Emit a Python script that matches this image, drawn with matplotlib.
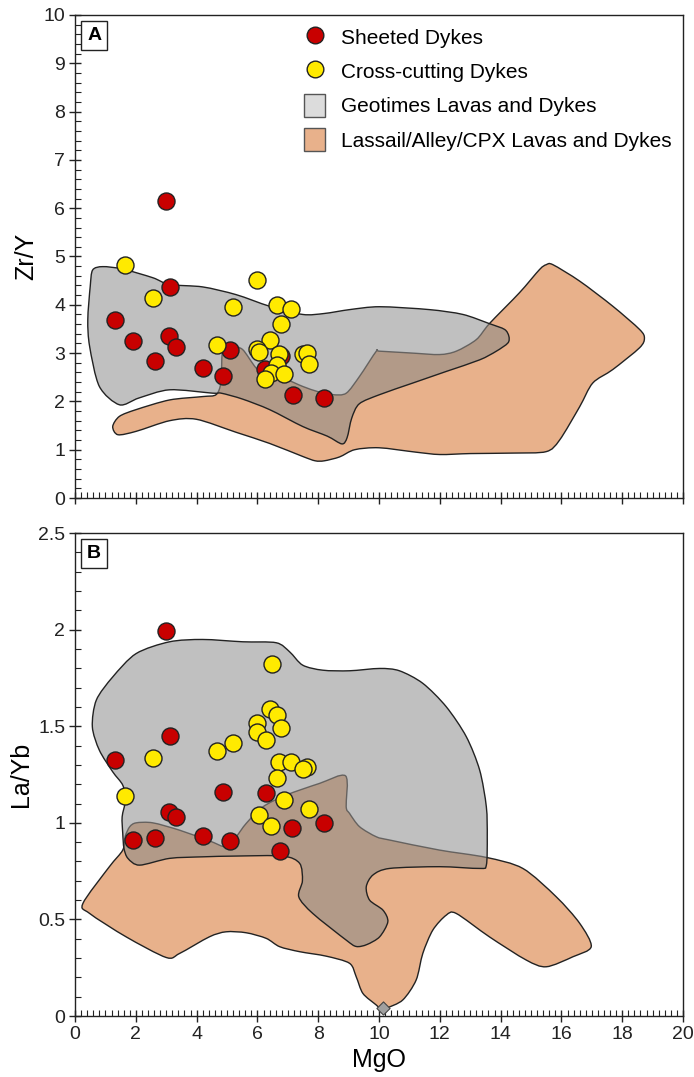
import numpy as np
import matplotlib
matplotlib.use("Agg")
import matplotlib.pyplot as plt
from matplotlib.path import Path
from matplotlib.patches import PathPatch, Patch
from matplotlib.lines import Line2D
from matplotlib.ticker import MultipleLocator, FuncFormatter

plt.rcParams['font.family'] = ['Liberation Sans', 'DejaVu Sans']

# ---------------- sample data ----------------
# Panel A: Zr/Y vs MgO
sheeted_mgo_a = [2.98, 3.14, 1.30, 1.92, 3.09, 3.33, 2.64, 4.21, 4.86, 5.09, 6.26, 6.78, 7.17, 8.18]
sheeted_zry = [6.15, 4.37, 3.69, 3.26, 3.36, 3.12, 2.84, 2.70, 2.52, 3.07, 2.67, 2.93, 2.14, 2.06]

cross_mgo_a = [1.65, 2.56, 5.98, 5.21, 6.64, 7.11, 6.77, 6.40, 4.68, 5.99, 6.05, 6.72, 7.49, 7.62,
               7.71, 6.64, 6.44, 6.86, 6.26]
cross_zry = [4.83, 4.14, 4.52, 3.96, 4.00, 3.91, 3.61, 3.28, 3.17, 3.09, 3.02, 2.99, 2.99, 3.00,
             2.78, 2.76, 2.59, 2.57, 2.47]

# Panel B: La/Yb vs MgO
sheeted_mgo_b = [2.98, 3.14, 1.30, 4.86, 6.29, 3.09, 3.33, 1.92, 2.64, 4.21, 5.10, 7.14, 8.18, 6.75]
sheeted_layb = [1.992, 1.449, 1.324, 1.157, 1.156, 1.057, 1.028, 0.911, 0.923, 0.933, 0.906, 0.971,
                0.997, 0.855]

cross_mgo_b = [6.49, 6.40, 6.64, 5.98, 5.99, 6.29, 6.78, 5.21, 4.68, 2.56, 6.70, 7.11, 7.62, 7.49,
               6.64, 1.65, 6.87, 6.05, 7.71, 6.45]
cross_layb = [1.820, 1.588, 1.557, 1.519, 1.471, 1.428, 1.490, 1.414, 1.373, 1.338, 1.316, 1.316,
              1.290, 1.278, 1.230, 1.140, 1.117, 1.040, 1.069, 0.985]

# single Geotimes reference point at the base of panel B
extra_mgo_b = [10.12]
extra_layb = [0.04]

# ---------------- compositional fields ----------------
geotimes_a_mgo = [0.58, 0.91, 1.57, 2.56, 3.11, 4.20, 5.30, 6.40, 7.49, 8.20, 9.03, 10.02, 11.66,
                  12.76, 13.63, 14.13, 14.27, 14.24, 13.86, 13.31, 12.21, 11.11, 10.02, 9.35,
                  9.10, 8.95, 8.78, 8.30, 7.49, 6.40, 5.50, 4.81, 4.53, 3.11, 2.10, 1.46, 0.80,
                  0.48, 0.42, 0.50]
geotimes_a_zry = [4.72, 4.79, 4.74, 4.56, 4.42, 4.37, 4.21, 3.97, 3.80, 3.82, 3.90, 3.96, 3.90,
                  3.80, 3.61, 3.49, 3.35, 3.21, 3.04, 2.86, 2.62, 2.38, 2.14, 1.95,
                  1.65, 1.25, 1.12, 1.28, 1.48, 1.83, 2.05, 2.17, 2.17, 2.24, 2.07, 1.93, 2.31,
                  3.14, 3.69, 4.38]

lassail_a_mgo = [1.24, 1.46, 2.01, 3.11, 4.20, 4.64, 4.80, 4.84, 4.95, 5.19, 5.52, 5.96, 6.40,
                 6.95, 7.49, 8.00, 8.48, 8.92, 9.36, 9.91, 10.02, 11.11, 11.99, 12.54, 13.20,
                 13.63, 14.62, 15.28, 15.50, 15.72, 16.60, 17.69, 18.57, 18.73, 18.57, 17.69,
                 17.03, 16.60, 15.94, 15.50, 14.40, 13.00, 12.00, 11.20, 10.00, 9.20, 8.70,
                 8.20, 7.90, 7.49, 6.40, 5.30, 3.99, 3.11, 2.01, 1.41]
lassail_a_zry = [1.48, 1.69, 1.83, 2.03, 2.10, 2.14, 2.40, 3.00, 3.12, 3.14, 3.07, 2.69, 2.48,
                 2.45, 2.31, 2.20, 2.14, 2.17, 2.52, 3.04, 3.04, 3.00, 2.97, 3.04, 3.28,
                 3.61, 4.25, 4.73, 4.83, 4.83, 4.49, 3.97, 3.49, 3.31, 3.11, 2.66,
                 2.38, 1.89, 1.20, 0.96, 0.93, 0.92, 0.90, 0.95, 1.04, 1.00, 0.85,
                 0.77, 0.77, 0.86, 1.13, 1.36, 1.63, 1.60, 1.38, 1.31]

geotimes_b_mgo = [0.57, 0.70, 1.24, 2.01, 3.11, 4.20, 5.52, 6.62, 7.06, 7.49, 8.15, 9.03, 10.02,
                  10.67, 11.44, 12.21, 12.87, 13.31, 13.53, 13.56, 13.53, 13.31, 11.99, 10.35,
                  9.80, 9.58, 9.69, 10.13, 10.29, 10.02, 9.60, 9.25, 8.92, 7.82, 7.36, 7.48,
                  7.39, 6.84, 5.30, 4.20, 3.11, 2.12, 1.74, 1.61, 1.57, 1.55, 1.66, 1.57, 1.24,
                  0.80]
geotimes_b_layb = [1.497, 1.635, 1.755, 1.876, 1.937, 1.949, 1.937, 1.932, 1.885, 1.816, 1.790,
                   1.787, 1.799, 1.787, 1.722, 1.601, 1.446, 1.273, 1.083, 0.928, 0.781, 0.764,
                   0.773, 0.764, 0.730, 0.669, 0.600, 0.548, 0.488, 0.410, 0.370, 0.360, 0.393,
                   0.531, 0.617, 0.700, 0.790, 0.828, 0.828, 0.824, 0.816, 0.781, 0.816,
                   0.868, 0.945, 1.031, 1.118, 1.195, 1.264, 1.376]

lassail_b_mgo = [0.26, 1.13, 1.57, 1.65, 1.80, 2.01, 2.56, 3.44, 4.42, 4.97, 5.30, 5.63, 6.18,
                 6.95, 8.04, 8.90, 8.92, 9.03, 9.36, 9.91, 10.35, 11.99, 13.53, 14.73, 15.83,
                 16.60, 16.98, 16.38, 15.50, 14.84, 13.63, 12.54, 12.21, 11.77, 11.44, 11.22,
                 10.78, 10.24, 10.10, 9.91, 9.47, 9.25, 9.03, 8.26, 7.39, 6.73, 6.29, 5.63,
                 4.97, 4.42, 3.44, 3.00, 1.68, 0.48]
lassail_b_layb = [0.583, 0.773, 0.859, 0.930, 0.980, 1.000, 1.000, 0.962, 0.907, 0.876, 0.928,
                  0.997, 1.083, 1.144, 1.204, 1.243, 1.083, 1.049, 0.980, 0.928, 0.911, 0.859,
                  0.821, 0.764, 0.617, 0.480, 0.359, 0.307, 0.255, 0.290, 0.410, 0.531, 0.522,
                  0.445, 0.324, 0.186, 0.083, 0.040, 0.030, 0.057, 0.117, 0.203, 0.273, 0.310,
                  0.333, 0.359, 0.402, 0.431, 0.436, 0.410, 0.324, 0.303, 0.410, 0.531]

# ---------------- styling ----------------
RED = '#c80000'
YELLOW = '#ffea00'
GREY = '#c0c0c0'
ORANGE = '#e8b18b'
OVERLAP = '#b29a88'
EDGE = '#222222'


def smooth_path(xs, ys, k=7.0):
    """Closed Catmull-Rom outline expressed as cubic Bezier segments."""
    p = np.column_stack([xs, ys]).astype(float)
    n = len(p)
    verts = [p[0]]
    codes = [Path.MOVETO]
    for i in range(n):
        p0, p1, p2, p3 = p[i - 1], p[i], p[(i + 1) % n], p[(i + 2) % n]
        c1 = p1 + (p2 - p0) / k
        c2 = p2 - (p3 - p1) / k
        verts += [c1, c2, p2]
        codes += [Path.CURVE4] * 3
    verts.append(p[0])
    codes.append(Path.CLOSEPOLY)
    return Path(np.array(verts), codes)


def draw_fields(ax, grey_xy, orange_xy):
    gpath = smooth_path(*grey_xy)
    opath = smooth_path(*orange_xy)
    # orange field
    ax.add_patch(PathPatch(opath, facecolor=ORANGE, edgecolor='none', zorder=1))
    ax.add_patch(PathPatch(opath, facecolor='none', edgecolor=EDGE, lw=1.0, zorder=1.1))
    # grey field
    ax.add_patch(PathPatch(gpath, facecolor=GREY, edgecolor='none', zorder=2))
    # overlap of both fields
    ov = PathPatch(gpath, facecolor=OVERLAP, edgecolor='none', zorder=2.1)
    ax.add_patch(ov)
    ov.set_clip_path(PathPatch(opath, transform=ax.transData))
    # orange outline seen through the grey field
    ol = PathPatch(opath, facecolor='none', edgecolor='#4a4a4a', lw=1.0, alpha=0.75, zorder=2.2)
    ax.add_patch(ol)
    ol.set_clip_path(PathPatch(gpath, transform=ax.transData))
    ax.add_patch(PathPatch(gpath, facecolor='none', edgecolor=EDGE, lw=1.0, zorder=2.3))


def style_axes(ax, ymax, ymajor, yminor):
    ax.set_xlim(0, 20)
    ax.set_ylim(0, ymax)
    ax.xaxis.set_major_locator(MultipleLocator(2))
    ax.xaxis.set_minor_locator(MultipleLocator(0.2))
    ax.yaxis.set_major_locator(MultipleLocator(ymajor))
    ax.yaxis.set_minor_locator(MultipleLocator(yminor))
    ax.yaxis.set_major_formatter(FuncFormatter(lambda v, p: f'{v:g}'))
    ax.tick_params(which='major', direction='inout', length=8, width=1.0, color=EDGE,
                   labelsize=14, labelcolor='#222222', pad=3)
    ax.tick_params(which='minor', direction='in', length=4, width=0.8, color=EDGE)
    ax.tick_params(top=False, right=False, which='both')
    for s in ax.spines.values():
        s.set_color(EDGE)
        s.set_linewidth(1.0)


def panel_letter(ax, letter):
    ax.text(0.02, 0.975, letter, transform=ax.transAxes, fontsize=14, fontweight='bold',
            va='top', ha='left',
            bbox=dict(boxstyle='square,pad=0.3', facecolor='white', edgecolor=EDGE, lw=1.0))


fig = plt.figure(figsize=(6.94, 10.77), dpi=100)
axA = fig.add_axes([0.1081, 0.5376, 0.8761, 0.4485])
axB = fig.add_axes([0.1081, 0.0566, 0.8761, 0.4485])

MS = 150

# ---- panel A ----
draw_fields(axA, (geotimes_a_mgo, geotimes_a_zry), (lassail_a_mgo, lassail_a_zry))
axA.scatter(sheeted_mgo_a, sheeted_zry, s=MS, c=RED, edgecolors=EDGE, linewidths=1.0, zorder=5)
axA.scatter(cross_mgo_a, cross_zry, s=MS, c=YELLOW, edgecolors=EDGE, linewidths=1.0, zorder=6)
style_axes(axA, 10, 1, 0.2)
axA.tick_params(axis='x', labelbottom=False)
axA.set_ylabel('Zr/Y', fontsize=18, labelpad=4)
panel_letter(axA, 'A')

handles = [
    Line2D([], [], marker='o', ls='none', markersize=12, markerfacecolor=RED,
           markeredgecolor=EDGE, markeredgewidth=1.0),
    Line2D([], [], marker='o', ls='none', markersize=12, markerfacecolor=YELLOW,
           markeredgecolor=EDGE, markeredgewidth=1.0),
    Patch(facecolor='#dcdcdc', edgecolor='#555555', lw=1.0),
    Patch(facecolor=ORANGE, edgecolor='#555555', lw=1.0),
]
labels = ['Sheeted Dykes', 'Cross-cutting Dykes', 'Geotimes Lavas and Dykes',
          'Lassail/Alley/CPX Lavas and Dykes']
axA.legend(handles, labels, loc='upper right', bbox_to_anchor=(1.005, 1.008), frameon=False,
           fontsize=15, handlelength=1.0, handleheight=1.3, handletextpad=0.75,
           labelspacing=0.55, borderaxespad=0.3)

# ---- panel B ----
draw_fields(axB, (geotimes_b_mgo, geotimes_b_layb), (lassail_b_mgo, lassail_b_layb))
axB.scatter(extra_mgo_b, extra_layb, s=45, marker='D', c='#a0a0a0', edgecolors='#444444',
            linewidths=0.8, zorder=4)
axB.scatter(sheeted_mgo_b, sheeted_layb, s=MS, c=RED, edgecolors=EDGE, linewidths=1.0, zorder=5)
axB.scatter(cross_mgo_b, cross_layb, s=MS, c=YELLOW, edgecolors=EDGE, linewidths=1.0, zorder=6)
style_axes(axB, 2.5, 0.5, 0.1)
axB.set_ylabel('La/Yb', fontsize=18, labelpad=4)
axB.set_xlabel('MgO', fontsize=18, labelpad=4)
panel_letter(axB, 'B')

fig.savefig('out.png', dpi=100)
